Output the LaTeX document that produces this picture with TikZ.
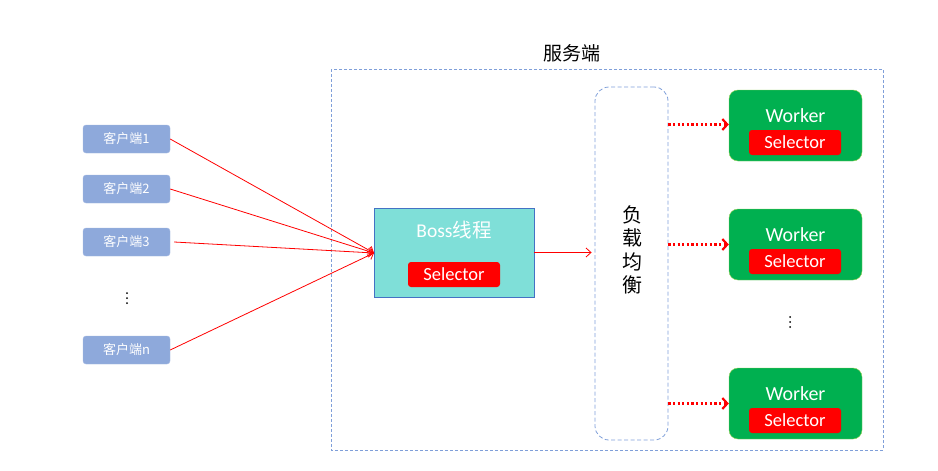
\documentclass[tikz,border=0pt]{standalone}
\usepackage{fontspec}
\setmainfont{Carlito}
\newfontfamily\cjk{Noto Sans CJK SC}
\usetikzlibrary{arrows.meta}
\definecolor{clientblue}{HTML}{8EA9DB}
\definecolor{dashblue}{HTML}{7F9FD9}
\definecolor{bossfill}{HTML}{7FDFD8}
\definecolor{bossedge}{HTML}{4472C4}
\definecolor{workgreen}{HTML}{00B050}
\definecolor{workedge}{HTML}{92D050}
\definecolor{selred}{HTML}{FF0000}
\tikzset{
  client/.style={draw=clientblue!80!white, fill=clientblue, rounded corners=3pt, minimum width=87pt, minimum height=28pt, text=white, font=\cjk\fontsize{13}{15}\selectfont, inner sep=0pt},
  worker/.style={draw=workedge, fill=workgreen, rounded corners=9pt, minimum width=133pt, minimum height=71pt, inner sep=0pt},
  sel/.style={fill=selred, rounded corners=3pt, text=white, minimum width=92pt, minimum height=25pt, inner sep=0pt, font=\fontsize{18.5}{20}\selectfont},
  redarrow/.style={draw=selred, line width=0.8pt, -{Straight Barb[length=5pt,width=9pt]}},
  dotarrow/.style={draw=selred, line width=2.2pt, dash pattern=on 2.2pt off 2.4pt, -{Straight Barb[length=5pt,width=11pt,line width=2.2pt]}},
  dashbox/.style={draw=dashblue, dashed, line width=0.8pt},
  dotmark/.style={fill=black, circle, inner sep=0pt, minimum size=2pt}
}
\begin{document}
\begin{tikzpicture}[x=1pt,y=-1pt]
\useasboundingbox (0,0) rectangle (938,471);
% outer server box
\draw[dashbox, dash pattern=on 3pt off 2pt] (331,69) rectangle (883,450);
\node[font=\cjk\fontsize{19}{21}\selectfont] (title) at (572,53) {服务端};
% clients
\node[client] (c1) at (126.5,139) {客户端1};
\node[client] (c2) at (126.5,189) {客户端2};
\node[client] (c3) at (126.5,242) {客户端3};
\node[client] (cn) at (126.5,350) {客户端n};
\foreach \k/\y in {1/293,2/298,3/303}{\node[dotmark] (cd\k) at (127,\y) {};}
% boss
\node[draw=bossedge, fill=bossfill, minimum width=160pt, minimum height=89pt, inner sep=0pt, line width=0.8pt] (boss) at (454,252.5) {};
\node[text=white, font=\fontsize{19.5}{21}\selectfont] (bosst) at (454,230) {Boss{\cjk 线程}};
\node[sel] (bsel) at (454,274.5) {Selector};
\coordinate (bin) at (374,253);
% load balancer
\node[dashbox, dash pattern=on 4pt off 2.5pt, rounded corners=14pt, minimum width=73pt, minimum height=353pt, inner sep=0pt] (lb) at (631.5,263.5) {};
\node[font=\cjk\fontsize{20}{23.5}\selectfont, align=center, inner sep=0pt] (lbt) at (632,250) {负\\载\\均\\衡};
% workers
\node[worker] (w1) at (795.5,125.5) {};
\node[worker] (w2) at (795.5,244.5) {};
\node[worker] (w3) at (795.5,403.5) {};
\foreach \w/\y in {1/125.5,2/244.5,3/403.5}{
  \node[text=white, font=\fontsize{20}{22}\selectfont] (wt\w) at (795.5,\y-10) {Worker};
  \node[sel] (ws\w) at (795,\y+17) {Selector};
}
\foreach \k/\y in {1/317,2/322,3/327}{\node[dotmark] (wd\k) at (790,\y) {};}
% arrows
\draw[redarrow] (c1.east) -- (bin);
\draw[redarrow] (c2.east) -- (bin);
\draw[redarrow] ([xshift=4pt]c3.east) -- (bin);
\draw[redarrow] (cn.east) -- (bin);
\draw[redarrow] (boss.east) -- ([xshift=-3pt]lb.west |- boss.east);
\draw[dotarrow] ([yshift=1pt]lb.east |- w1.west) -- ([yshift=1pt]w1.west);
\draw[dotarrow] (lb.east |- w2.west) -- (w2.west);
\draw[dotarrow] (lb.east |- w3.west) -- (w3.west);
\end{tikzpicture}
\end{document}
